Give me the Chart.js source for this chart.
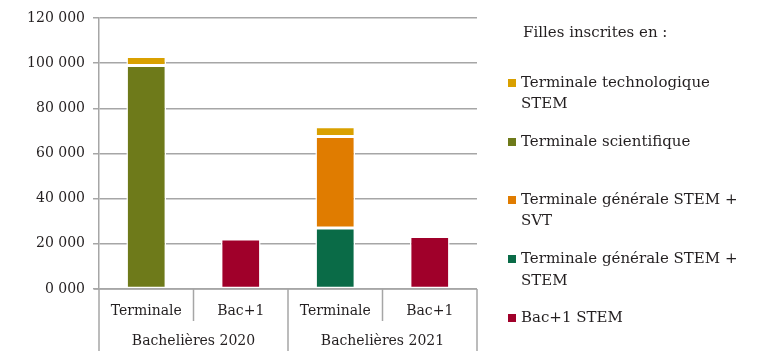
<!DOCTYPE html>
<html><head><meta charset="utf-8">
<script src="https://cdn.jsdelivr.net/npm/chart.js@4/dist/chart.umd.min.js"></script>
<style>html,body{margin:0;padding:0;background:#fff;}#wrap{width:780px;height:358px;position:relative;}</style>
</head><body><div id="wrap"><canvas id="c" width="780" height="358"></canvas></div>
<script>
const categories = ['Terminale', 'Bac+1', 'Terminale', 'Bac+1'];
const groups = ['Bachelières 2020', 'Bachelières 2021'];
const bac1Stem = [0, 22100, 0, 23300];
const genStemStem = [0, 0, 27000, 0];
const genStemSvt = [0, 0, 40500, 0];
const scientifique = [99000, 0, 0, 0];
const technoStem = [4000, 0, 4300, 0];
const yTicks = [0, 20000, 40000, 60000, 80000, 100000, 120000];
const legendTitle = 'Filles inscrites en :';

const FONT = '"DejaVu Serif", serif';
const FSIZE = 14;
const LSIZE = 15;
const TXT = '#231f20';

const ds = [
  {label: ['Bac+1 STEM'], data: bac1Stem, backgroundColor: '#A0002A'},
  {label: ['Terminale générale STEM +', 'STEM'], data: genStemStem, backgroundColor: '#0A6B47'},
  {label: ['Terminale générale STEM +', 'SVT'], data: genStemSvt, backgroundColor: '#E07C00'},
  {label: ['Terminale scientifique'], data: scientifique, backgroundColor: '#6E7A1A'},
  {label: ['Terminale technologique', 'STEM'], data: technoStem, backgroundColor: '#D9A000'}
].map(d => Object.assign(d, {borderColor: '#ffffff', borderWidth: 1.5, borderSkipped: false, barPercentage: 0.42, categoryPercentage: 1}));

const legendY = [[83, 104], [142], [200, 221], [259, 281], [318]];

const customPlugin = {
  id: 'custom',
  afterDraw(chart) {
    const ctx = chart.ctx;
    const x = chart.scales.x;
    const ca = chart.chartArea;
    const n = categories.length;
    const step = (ca.right - ca.left) / n;
    ctx.save();
    ctx.strokeStyle = '#a6a6a6';
    ctx.lineWidth = 1.5;
    ctx.beginPath();
    ctx.moveTo(ca.left - 5, ca.bottom);
    ctx.lineTo(ca.right, ca.bottom);
    ctx.stroke();
    for (let i = 0; i <= n; i++) {
      const px = ca.left + i * step;
      const len = (i % 2 === 0) ? 62 : 32;
      ctx.beginPath();
      ctx.moveTo(px, ca.bottom);
      ctx.lineTo(px, ca.bottom + len);
      ctx.stroke();
    }
    ctx.fillStyle = TXT;
    ctx.font = FSIZE + 'px ' + FONT;
    ctx.textAlign = 'center';
    ctx.textBaseline = 'middle';
    categories.forEach((c, i) => {
      ctx.fillText(c, x.getPixelForValue(i), ca.bottom + 22);
    });
    groups.forEach((g, i) => {
      ctx.fillText(g, ca.left + (2 * i + 1) * step, ca.bottom + 52);
    });
    ctx.font = LSIZE + 'px ' + FONT;
    ctx.textAlign = 'left';
    ctx.fillText(legendTitle, 523, 33);
    const order = chart.data.datasets.slice().reverse();
    order.forEach((d, i) => {
      const ys = legendY[i];
      ctx.fillStyle = d.backgroundColor;
      ctx.fillRect(508, ys[0] - 4, 8, 8);
      ctx.fillStyle = TXT;
      d.label.forEach((t, j) => ctx.fillText(t, 521, ys[j]));
    });
    ctx.restore();
  }
};

new Chart(document.getElementById('c'), {
  type: 'bar',
  data: {labels: categories, datasets: ds},
  options: {
    responsive: false,
    animation: false,
    events: [],
    layout: {padding: {top: 18, right: 303, bottom: 61, left: 0}},
    plugins: {legend: {display: false}, tooltip: {enabled: false}},
    scales: {
      x: {
        stacked: true,
        ticks: {display: false},
        grid: {display: false},
        border: {display: false}
      },
      y: {
        stacked: true,
        min: 0, max: 120000,
        afterBuildTicks(s) { s.ticks = yTicks.map(v => ({value: v})); },
        afterFit(s) { s.width = 99; },
        ticks: {
          color: TXT,
          font: {family: FONT, size: FSIZE},
          padding: 8,
          callback: v => (v === 0 ? '0' : String(v / 1000)) + ' 000'
        },
        grid: {color: '#a6a6a6', lineWidth: 1.5, tickLength: 6},
        border: {display: true, color: '#a6a6a6', width: 1.5}
      }
    }
  },
  plugins: [customPlugin]
});
</script></body></html>
